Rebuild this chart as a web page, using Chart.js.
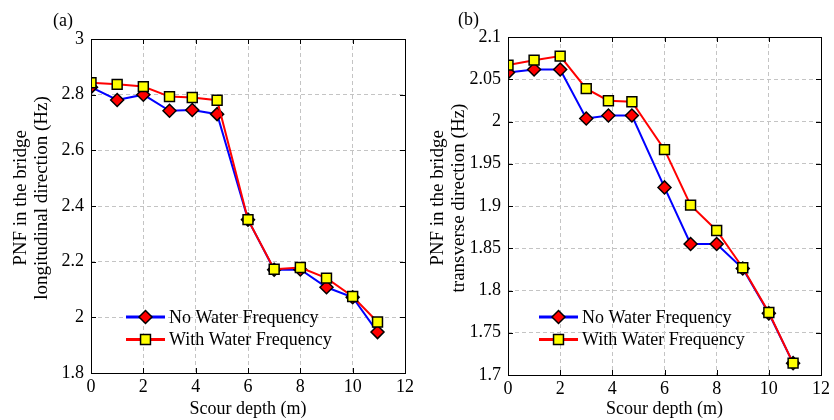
<!DOCTYPE html>
<html>
<head>
<meta charset="utf-8">
<script src="https://cdn.jsdelivr.net/npm/chart.js@4.4.1/dist/chart.umd.min.js"></script>
<style>
  body { margin: 0; background: #fff; }
  #wrap { display: flex; width: 834px; height: 420px; }
  canvas { display: block; }
</style>
</head>
<body>
<div id="wrap">
  <canvas id="chartA" width="417" height="420"></canvas>
  <canvas id="chartB" width="417" height="420"></canvas>
</div>
<script>
// scour depth (m)
const depthA = [0, 1, 2, 3, 3.87, 4.82, 6, 7, 8, 9, 10, 10.95];
const depthB = [0, 1, 2, 3, 3.85, 4.75, 6, 7, 8, 9, 10, 10.93];

// (a) longitudinal direction PNF (Hz)
const longNoWater   = [2.827, 2.781, 2.800, 2.742, 2.745, 2.730, 2.351, 2.171, 2.172, 2.108, 2.072, 1.947];
const longWithWater = [2.843, 2.837, 2.829, 2.793, 2.790, 2.780, 2.351, 2.173, 2.179, 2.141, 2.075, 1.983];

// (b) transverse direction PNF (Hz)
const transNoWater   = [2.058, 2.0615, 2.0615, 2.0036, 2.0071, 2.0071, 1.922, 1.855, 1.855, 1.826, 1.773, 1.714];
const transWithWater = [2.0667, 2.0726, 2.0774, 2.0389, 2.0246, 2.0234, 1.9667, 1.901, 1.871, 1.827, 1.774, 1.714];

const seriesNames = ["No Water Frequency", "With Water Frequency"];
const xTicks = [0, 2, 4, 6, 8, 10, 12];

const serif = "'Liberation Serif', 'Times New Roman', serif";

function pts(xs, ys) {
  return xs.map((x, i) => ({ x: x, y: ys[i] }));
}

// frame, inward ticks, y title, panel letter and legend inside the plot
const framePlugin = {
  id: 'frame',
  afterDraw(chart, args, opts) {
    const ctx = chart.ctx;
    const a = chart.chartArea;
    const xs = chart.scales.x, ys = chart.scales.y;
    ctx.save();
    ctx.strokeStyle = '#000';
    ctx.lineWidth = 1;
    ctx.setLineDash([]);
    ctx.strokeRect(a.left + 0.5, a.top + 0.5, a.right - a.left, a.bottom - a.top);
    const tl = 5;
    ctx.beginPath();
    xs.ticks.forEach(t => {
      const px = Math.round(xs.getPixelForValue(t.value)) + 0.5;
      ctx.moveTo(px, a.bottom); ctx.lineTo(px, a.bottom - tl);
      ctx.moveTo(px, a.top); ctx.lineTo(px, a.top + tl);
    });
    ys.ticks.forEach(t => {
      const py = Math.round(ys.getPixelForValue(t.value)) + 0.5;
      ctx.moveTo(a.left, py); ctx.lineTo(a.left + tl, py);
      ctx.moveTo(a.right, py); ctx.lineTo(a.right - tl, py);
    });
    ctx.stroke();

    ctx.fillStyle = '#000';

    // y axis title, two lines
    ctx.save();
    ctx.font = '19px ' + serif;
    ctx.textAlign = 'center';
    ctx.textBaseline = 'middle';
    opts.yTitle.forEach((line, i) => {
      ctx.save();
      ctx.translate(21 + i * 21.5, opts.yTitleY);
      ctx.rotate(-Math.PI / 2);
      ctx.fillText(line, 0, 0);
      ctx.restore();
    });
    ctx.restore();

    // panel letter
    ctx.font = '18px ' + serif;
    ctx.textBaseline = 'middle';
    ctx.textAlign = 'left';
    ctx.fillText(opts.letter, opts.letterX, opts.letterY);

    // legend
    chart.data.datasets.slice().sort((p, q) => p.legendIndex - q.legendIndex).forEach((ds, i) => {
      const y = opts.legY + i * 22.5;
      ctx.strokeStyle = ds.borderColor;
      ctx.lineWidth = 3;
      ctx.beginPath();
      ctx.moveTo(opts.legX, y); ctx.lineTo(opts.legX + 39, y);
      ctx.stroke();
      ctx.fillStyle = ds.pointBackgroundColor;
      ctx.strokeStyle = '#000';
      ctx.lineWidth = ds.pointBorderWidth;
      Chart.helpers.drawPoint(ctx, {
        pointStyle: ds.pointStyle, radius: ds.pointRadius, borderWidth: ds.pointBorderWidth
      }, opts.legX + 19.5, y);
      ctx.fillStyle = '#000';
      ctx.font = '18px ' + serif;
      ctx.fillText(ds.label, opts.legX + 43, y + 1);
    });
    ctx.restore();
  }
};

function makeChart(id, xs, noWater, withWater, yMin, yMax, yStep, top, bottom, right, frameOpts) {
  return new Chart(document.getElementById(id), {
    type: 'line',
    data: {
      datasets: [
        {
          label: seriesNames[0], legendIndex: 0, order: 1,
          data: pts(xs, noWater),
          borderColor: '#0000ff', borderWidth: 2,
          pointStyle: 'rectRot', pointRadius: 6.5, pointBorderWidth: 1.5,
          pointBackgroundColor: '#ff0000', pointBorderColor: '#000',
          tension: 0
        },
        {
          label: seriesNames[1], legendIndex: 1, order: 0,
          data: pts(xs, withWater),
          borderColor: '#ff0000', borderWidth: 2,
          pointStyle: 'rect', pointRadius: 7, pointBorderWidth: 1.5,
          pointBackgroundColor: '#ffff00', pointBorderColor: '#000',
          tension: 0
        }
      ]
    },
    options: {
      responsive: false,
      animation: false,
      layout: { padding: { left: 0, right: right, top: top, bottom: 0 } },
      plugins: {
        legend: { display: false },
        tooltip: { enabled: false },
        frame: frameOpts
      },
      scales: {
        x: {
          type: 'linear', min: 0, max: 12,
          afterBuildTicks: s => { s.ticks = xTicks.map(v => ({ value: v })); },
          afterFit: s => { s.height = 420 - bottom; },
          grid: { color: '#c4c4c4', drawTicks: false, lineWidth: 1 },
          border: { display: false, dash: [4, 3] },
          ticks: { color: '#000', font: { family: serif, size: 18 }, padding: 3, maxRotation: 0 },
          title: {
            display: true, text: 'Scour depth (m)', color: '#000',
            font: { family: serif, size: 18 }, padding: { top: 0, bottom: 0 }
          }
        },
        y: {
          min: yMin, max: yMax,
          afterFit: s => { s.width = 91; },
          grid: { color: '#c4c4c4', drawTicks: false, lineWidth: 1 },
          border: { display: false, dash: [4, 3] },
          ticks: {
            stepSize: yStep, color: '#000', font: { family: serif, size: 18 }, padding: 7,
            callback: v => String(+v.toFixed(2))
          },
          title: { display: false }
        }
      }
    },
    plugins: [framePlugin]
  });
}

makeChart('chartA', depthA, longNoWater, longWithWater, 1.8, 3, 0.2, 39, 373, 11,
  { yTitle: ['PNF in the bridge', 'longitudinal direction (Hz)'], yTitleY: 198,
    letter: '(a)', letterX: 53, letterY: 21, legX: 126, legY: 317 });

makeChart('chartB', depthB, transNoWater, transWithWater, 1.7, 2.1, 0.05, 37, 375, 13,
  { yTitle: ['PNF in the bridge', 'transverse direction (Hz)'], yTitleY: 198,
    letter: '(b)', letterX: 41, letterY: 20, legX: 122, legY: 317 });
</script>
</body>
</html>
